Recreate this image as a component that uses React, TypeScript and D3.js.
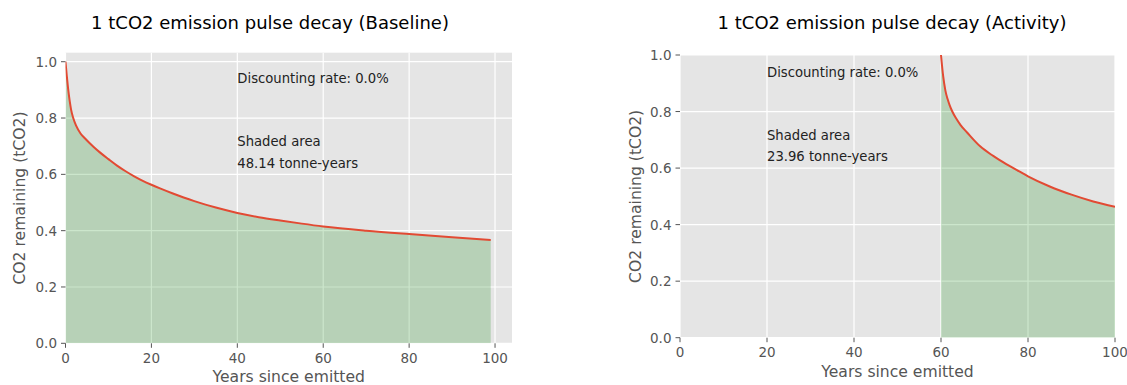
import React from "react";
import * as d3 from "d3";

// values
const baselineYears = [0, 0.3, 0.6, 1, 1.3, 1.8, 2.5, 3.5, 4.5, 6.5, 8, 10, 12, 14, 16, 18, 20, 22, 25, 27.5, 30, 35, 40, 45, 50, 55, 60, 70, 80, 90, 99];
const baselineValues = [1.0, 0.95, 0.905, 0.858, 0.83, 0.8, 0.772, 0.745, 0.728, 0.698, 0.678, 0.654, 0.631, 0.611, 0.593, 0.577, 0.563, 0.55, 0.532, 0.518, 0.505, 0.482, 0.463, 0.448, 0.436, 0.425, 0.415, 0.4, 0.388, 0.377, 0.367];

const activityYears = [60, 60.5, 61, 61.5, 62, 62.6, 63.5, 64.5, 66, 69, 72, 75, 78, 80, 85, 90, 95, 100];
const activityValues = [1.0, 0.925, 0.875, 0.845, 0.822, 0.8, 0.775, 0.752, 0.726, 0.677, 0.643, 0.614, 0.588, 0.571, 0.535, 0.506, 0.482, 0.463];

const xTicks = [0, 20, 40, 60, 80, 100];
const yTicks = [0, 0.2, 0.4, 0.6, 0.8, 1.0];

const titles = ["1 tCO2 emission pulse decay (Baseline)", "1 tCO2 emission pulse decay (Activity)"];
const areaLabels = ["48.14 tonne-years", "23.96 tonne-years"];

const FONT = "DejaVu Sans";

type PanelProps = {
  id: string;
  years: number[];
  values: number[];
  xDomain: [number, number];
  yDomain: [number, number];
  left: number;
  right: number;
  top: number;
  bottom: number;
  title: string;
  titleX: number;
  areaLabel: string;
  textX: number;
  yLabelX: number;
  xLabelY: number;
};

const Panel = (p: PanelProps) => {
  const x = d3.scaleLinear().domain(p.xDomain).range([p.left, p.right]);
  const y = d3.scaleLinear().domain(p.yDomain).range([p.bottom, p.top]);
  const pts = p.years.map((yr, i) => [yr, p.values[i]] as [number, number]);

  const line = d3
    .line<[number, number]>()
    .x((d) => x(d[0]))
    .y((d) => y(d[1]))
    .curve(d3.curveMonotoneX);
  const area = d3
    .area<[number, number]>()
    .x((d) => x(d[0]))
    .y0(y(0))
    .y1((d) => y(d[1]))
    .curve(d3.curveMonotoneX);

  const cx = (p.left + p.right) / 2;
  const cy = (p.top + p.bottom) / 2;

  return (
    <g>
      <defs>
        <clipPath id={p.id}>
          <rect x={p.left} y={p.top - 1} width={p.right - p.left} height={p.bottom - p.top + 1} />
        </clipPath>
      </defs>
      <rect x={p.left} y={p.top} width={p.right - p.left} height={p.bottom - p.top} fill="#E5E5E5" />
      {/* grid */}
      {xTicks.map((t) => (
        <line key={"gx" + t} x1={x(t)} x2={x(t)} y1={p.top} y2={p.bottom} stroke="#fff" strokeWidth={1.2} />
      ))}
      {yTicks.map((t) => (
        <line key={"gy" + t} x1={p.left} x2={p.right} y1={y(t)} y2={y(t)} stroke="#fff" strokeWidth={1.2} />
      ))}
      <g clipPath={`url(#${p.id})`}>
        <path d={area(pts) || ""} fill="green" fillOpacity={0.2} />
        <path d={line(pts) || ""} fill="none" stroke="#E24A33" strokeWidth={2} />
      </g>
      {/* ticks */}
      {xTicks.map((t) => (
        <g key={"tx" + t}>
          <line x1={x(t)} x2={x(t)} y1={p.bottom} y2={p.bottom + 4.5} stroke="#555" strokeWidth={1} />
          <text x={x(t)} y={p.bottom + 19.5} textAnchor="middle" fontSize={13.5} fill="#555" fontFamily={FONT}>
            {d3.format("d")(t)}
          </text>
        </g>
      ))}
      {yTicks.map((t) => (
        <g key={"ty" + t}>
          <line x1={p.left - 4.5} x2={p.left} y1={y(t)} y2={y(t)} stroke="#555" strokeWidth={1} />
          <text x={p.left - 8.5} y={y(t) + 5} textAnchor="end" fontSize={13.5} fill="#555" fontFamily={FONT}>
            {d3.format(".1f")(t)}
          </text>
        </g>
      ))}
      {/* labels */}
      <text x={p.titleX} y={29} textAnchor="middle" fontSize={18} fill="#000" fontFamily={FONT}>
        {p.title}
      </text>
      <text x={cx} y={p.xLabelY} textAnchor="middle" fontSize={15.6} fill="#555" fontFamily={FONT}>
        Years since emitted
      </text>
      <text
        transform={`translate(${p.yLabelX},${cy}) rotate(-90)`}
        textAnchor="middle"
        fontSize={15.6}
        fill="#555"
        fontFamily={FONT}
      >
        CO2 remaining (tCO2)
      </text>
      {/* annotations */}
      <text x={x(p.textX)} y={y(0.923)} fontSize={13.2} fill="#222" fontFamily={FONT}>
        Discounting rate: 0.0%
      </text>
      <text x={x(p.textX)} y={y(0.699)} fontSize={13.2} fill="#222" fontFamily={FONT}>
        Shaded area
      </text>
      <text x={x(p.textX)} y={y(0.624)} fontSize={13.2} fill="#222" fontFamily={FONT}>
        {p.areaLabel}
      </text>
    </g>
  );
};

const App = () => {
  return (
    <svg width={1127} height={385} style={{ position: "absolute", left: 0, top: 0, background: "#fff" }}>
      <Panel
        id="clipA"
        years={baselineYears}
        values={baselineValues}
        xDomain={[0, 103.95]}
        yDomain={[0, 1.032]}
        left={65.5}
        right={512}
        top={52.7}
        bottom={343.3}
        title={titles[0]}
        titleX={270}
        areaLabel={areaLabels[0]}
        textX={40}
        yLabelX={25}
        xLabelY={381.5}
      />
      <Panel
        id="clipB"
        years={activityYears}
        values={activityValues}
        xDomain={[0, 100]}
        yDomain={[0, 1]}
        left={680}
        right={1115}
        top={55}
        bottom={337.7}
        title={titles[1]}
        titleX={892}
        areaLabel={areaLabels[1]}
        textX={20}
        yLabelX={641}
        xLabelY={377}
      />
    </svg>
  );
};

export default App;
